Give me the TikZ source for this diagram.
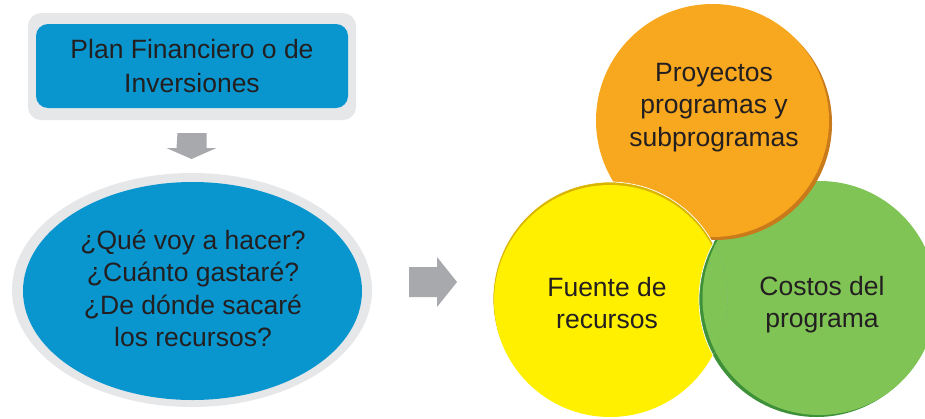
\documentclass[tikz,border=0pt]{standalone}
\usepackage{fontspec}
\setmainfont{Liberation Sans}
\usetikzlibrary{shapes.geometric}
\definecolor{blueC}{HTML}{0996CF}
\definecolor{grayBg}{HTML}{E6E7E8}
\definecolor{arrowG}{HTML}{A7A9AC}
\definecolor{orangeC}{HTML}{F8A81F}
\definecolor{orangeD}{HTML}{C97A1A}
\definecolor{yellowC}{HTML}{FFF000}
\definecolor{yellowD}{HTML}{D9B400}
\definecolor{greenC}{HTML}{80C456}
\definecolor{greenD}{HTML}{3F9139}
\definecolor{txtC}{HTML}{231F20}
\begin{document}
\begin{tikzpicture}[x=1pt,y=-1pt,
  txt/.style={text=txtC, align=center, inner sep=0pt, font=\fontsize{26.5}{32.5}\selectfont},
  blockarrow/.style={fill=arrowG},
  disc/.style={circle, inner sep=0pt, minimum size=#1}]
\useasboundingbox (0,0) rectangle (925,418);
% top box
\fill[grayBg, rounded corners=13pt] (28,13) rectangle (356,120);
\node[fill=blueC, rounded corners=12pt, minimum width=312pt, minimum height=84pt, inner sep=0pt] (plan) at (192,66) {};
\node[txt, font=\fontsize{26.5}{34}\selectfont] (plantxt) at (192,66.5) {Plan Financiero o de\\Inversiones};
% down arrow
\coordinate (dtop) at (192,133);
\fill[blockarrow] (dtop) ++(-14.5,0) -- ++(29,0) -- ++(0,15) -- ++(10,0) -- ++(-25,11) -- ++(-25,-11) -- ++(10,0) -- cycle;
% ellipse
\fill[grayBg] (192,290) ellipse (180pt and 117pt);
\node[fill=blueC, ellipse, minimum width=339pt, minimum height=218pt, inner sep=0pt] (ques) at (192.5,291) {};
\node[txt] (questxt) at (193,288.5) {¿Qué voy a hacer?\\¿Cuánto gastaré?\\¿De dónde sacaré\\los recursos?};
% right arrow
\coordinate (rtail) at (409,282);
\fill[blockarrow] (rtail) ++(0,-15) -- ++(28,0) -- ++(0,-10) -- ++(20,25) -- ++(-20,25) -- ++(0,-10) -- ++(-28,0) -- cycle;
% green circle
\fill[greenD] (816.5,299.5) circle (117.5pt);
\node[disc=234pt, fill=greenC] (cost) at (819.5,298) {};
% orange circle
\fill[orangeD] (715.5,123.5) circle (116.5pt);
\node[disc=233pt, fill=orangeC] (proy) at (712.5,120.5) {};
% yellow circle
\fill[yellowD, draw=white, line width=0.7pt] (610,299) circle (117pt);
\node[disc=232pt, fill=yellowC] (fuente) at (610,301) {};
% green over yellow
\begin{scope}
  \clip (610,299) circle (117.4pt);
  \fill[greenD, draw=white, line width=0.7pt] (816.5,299.5) circle (117.5pt);
  \fill[greenC] (cost.center) circle (117pt);
\end{scope}
% texts
\node[txt] (proytxt) at (714,107.5) {Proyectos\\programas y\\subprogramas};
\node[txt] (fuentetxt) at (607,303) {Fuente de\\recursos};
\node[txt] (costtxt) at (822,304.5) {Costos del\\programa};
\end{tikzpicture}
\end{document}
